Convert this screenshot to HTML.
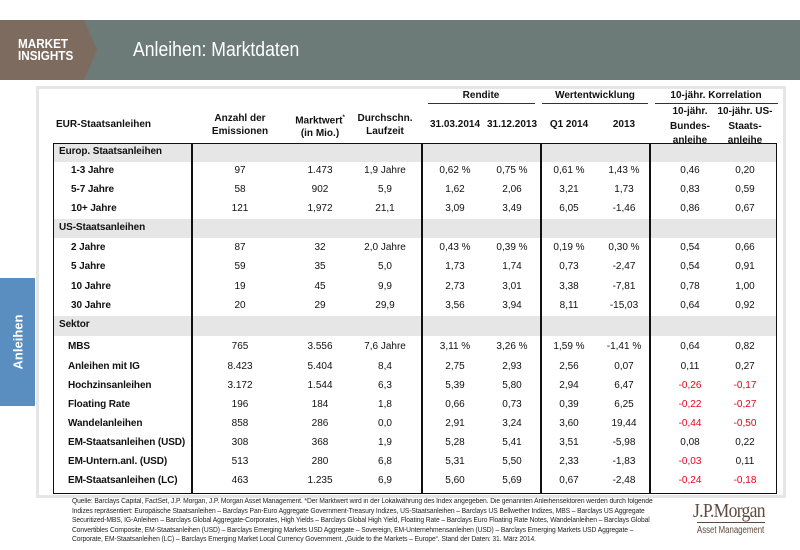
<!DOCTYPE html>
<html><head><meta charset="utf-8"><style>
body{margin:0;width:800px;height:550px;background:#fff;font-family:"Liberation Sans",Arial,sans-serif;position:relative;overflow:hidden}
.abs{position:absolute}
.t{position:absolute;font-size:10px;color:#111;white-space:nowrap}
.b{font-weight:bold}
.c{transform:translateX(-50%);text-align:center}
.r{color:#e8001c}
</style></head><body>
<div class="abs" style="left:0;top:20px;width:800px;height:60px;background:#6d7b78"></div>
<svg class="abs" style="left:0;top:20px" width="100" height="60"><polygon points="0,0 84,0 97,30 84,60 0,60" fill="#7e6b5f"/></svg>
<div class="abs b" style="left:18px;top:38px;color:#fff;font-size:13px;line-height:12px;transform:scaleX(0.9);transform-origin:left">MARKET<br>INSIGHTS</div>
<div class="abs" style="left:133px;top:39px;color:#fff;font-size:20px;transform:scaleX(0.88);transform-origin:left">Anleihen: Marktdaten</div>
<div class="abs" style="left:0;top:278px;width:35px;height:128px;background:#5a8dc0"></div>
<div class="abs b" style="left:18px;top:342px;color:#fff;font-size:13px;transform:translate(-50%,-50%) rotate(-90deg)">Anleihen</div>
<div class="abs" style="left:36px;top:86px;width:744px;height:406px;border:3px solid #e6e6e6"></div>
<div class="abs" style="left:54px;top:144px;width:722px;height:18px;background:#e6e6e6"></div>
<div class="abs" style="left:54px;top:219px;width:722px;height:19px;background:#e6e6e6"></div>
<div class="abs" style="left:54px;top:316px;width:722px;height:20px;background:#e6e6e6"></div>
<div class="abs" style="left:53px;top:143px;width:722px;height:349px;border:1.5px solid #111"></div>
<div class="abs" style="left:191px;top:143px;width:1.5px;height:350px;background:#111"></div>
<div class="abs" style="left:421px;top:143px;width:1.5px;height:350px;background:#111"></div>
<div class="abs" style="left:540px;top:143px;width:1.5px;height:350px;background:#111"></div>
<div class="abs" style="left:649px;top:143px;width:1.5px;height:350px;background:#111"></div>
<div class="abs" style="left:428px;top:103px;width:107px;height:1px;background:#333"></div>
<div class="abs" style="left:542px;top:103px;width:106px;height:1px;background:#333"></div>
<div class="abs" style="left:655px;top:103px;width:123px;height:1px;background:#333"></div>
<div class="t b c" style="left:481px;top:90px">Rendite</div>
<div class="t b c" style="left:595px;top:90px">Wertentwicklung</div>
<div class="t b c" style="left:716px;top:90px">10-jähr. Korrelation</div>
<div class="t b" style="left:56px;top:119px">EUR-Staatsanleihen</div>
<div class="t b c" style="left:240px;top:112px;line-height:13px">Anzahl der<br>Emissionen</div>
<div class="t b c" style="left:320px;top:112px;line-height:13px">Marktwert<sup style="font-size:6px">*</sup><br>(in Mio.)</div>
<div class="t b c" style="left:385px;top:112px;line-height:13px">Durchschn.<br>Laufzeit</div>
<div class="t b c" style="left:455px;top:119px">31.03.2014</div>
<div class="t b c" style="left:512px;top:119px">31.12.2013</div>
<div class="t b c" style="left:569px;top:119px">Q1 2014</div>
<div class="t b c" style="left:624px;top:119px">2013</div>
<div class="t b c" style="left:690px;top:105px;line-height:14.5px">10-jähr.<br>Bundes-<br>anleihe</div>
<div class="t b c" style="left:745px;top:105px;line-height:14.5px">10-jähr. US-<br>Staats-<br>anleihe</div>
<div id="rows"></div>
<div class="abs" style="left:72px;top:497px;font-size:7px;line-height:9.6px;color:#222;width:700px;transform:scaleX(0.96);transform-origin:left;letter-spacing:-0.1px">Quelle: Barclays Capital, FactSet, J.P. Morgan, J.P. Morgan Asset Management. *Der Marktwert wird in der Lokalwährung des Index angegeben. Die genannten Anleihensektoren werden durch folgende<br>Indizes repräsentiert: Europäische Staatsanleihen – Barclays Pan-Euro Aggregate Government-Treasury Indizes, US-Staatsanleihen – Barclays US Bellwether Indizes, MBS – Barclays US Aggregate<br>Securitized-MBS, IG-Anleihen – Barclays Global Aggregate-Corporates, High Yields – Barclays Global High Yield, Floating Rate – Barclays Euro Floating Rate Notes, Wandelanleihen – Barclays Global<br>Convertibles Composite, EM-Staatsanleihen (USD) – Barclays Emerging Markets USD Aggregate – Sovereign, EM-Unternehmensanleihen (USD) – Barclays Emerging Markets USD Aggregate –<br>Corporate, EM-Staatsanleihen (LC) – Barclays Emerging Market Local Currency Government. „Guide to the Markets – Europe“. Stand der Daten: 31. März 2014.</div>
<div class="abs" style="left:693px;top:500px;font-family:'Liberation Serif',serif;font-size:20px;color:#5e4b3e;letter-spacing:-0.8px;transform:scaleX(0.88);transform-origin:left">J.P.Morgan</div>
<div class="abs" style="left:697px;top:522px;width:68px;height:1px;background:#5e4b3e"></div>
<div class="abs" style="left:697px;top:525px;font-size:10px;color:#5e4b3e;transform:scaleX(0.78);transform-origin:left">Asset Management</div>
<script>
const R=[
[153,"Europ. Staatsanleihen",0,null],
[172,"1-3 Jahre",1,["97","1.473","1,9 Jahre","0,62 %","0,75 %","0,61 %","1,43 %","0,46","0,20"]],
[191,"5-7 Jahre",1,["58","902","5,9","1,62","2,06","3,21","1,73","0,83","0,59"]],
[210,"10+ Jahre",1,["121","1,972","21,1","3,09","3,49","6,05","-1,46","0,86","0,67"]],
[229,"US-Staatsanleihen",0,null],
[249,"2 Jahre",1,["87","32","2,0 Jahre","0,43 %","0,39 %","0,19 %","0,30 %","0,54","0,66"]],
[268,"5 Jahre",1,["59","35","5,0","1,73","1,74","0,73","-2,47","0,54","0,91"]],
[288,"10 Jahre",1,["19","45","9,9","2,73","3,01","3,38","-7,81","0,78","1,00"]],
[307,"30 Jahre",1,["20","29","29,9","3,56","3,94","8,11","-15,03","0,64","0,92"]],
[326,"Sektor",0,null],
[348,"MBS",2,["765","3.556","7,6 Jahre","3,11 %","3,26 %","1,59 %","-1,41 %","0,64","0,82"]],
[368,"Anleihen mit IG",2,["8.423","5.404","8,4","2,75","2,93","2,56","0,07","0,11","0,27"]],
[387,"Hochzinsanleihen",2,["3.172","1.544","6,3","5,39","5,80","2,94","6,47","-0,26","-0,17"]],
[406,"Floating Rate",2,["196","184","1,8","0,66","0,73","0,39","6,25","-0,22","-0,27"]],
[425,"Wandelanleihen",2,["858","286","0,0","2,91","3,24","3,60","19,44","-0,44","-0,50"]],
[444,"EM-Staatsanleihen (USD)",2,["308","368","1,9","5,28","5,41","3,51","-5,98","0,08","0,22"]],
[463,"EM-Untern.anl. (USD)",2,["513","280","6,8","5,31","5,50","2,33","-1,83","-0,03","0,11"]],
[482,"EM-Staatsanleihen (LC)",2,["463","1.235","6,9","5,60","5,69","0,67","-2,48","-0,24","-0,18"]]];
const X=[240,320,385,455,512,569,624,690,745];
let h="";
for(const [y,l,ind,v] of R){
 const lx=ind==0?59:ind==1?71:68;
 h+=`<div class="t b" style="left:${lx}px;top:${y-7}px;letter-spacing:-0.1px">${l}</div>`;
 if(v)v.forEach((s,i)=>{h+=`<div class="t c${s.startsWith('-')&&i>=7?' r':''}" style="left:${X[i]}px;top:${y-7}px">${s}</div>`});
}
document.getElementById("rows").innerHTML=h;
</script>
</body></html>
